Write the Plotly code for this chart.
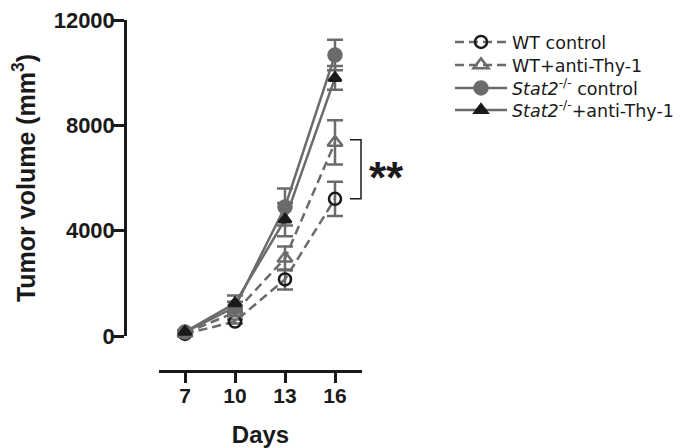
import plotly.graph_objects as go

# ---- data ----
days = [7, 10, 13, 16]
day_ticks = [7, 10, 13, 16]
vol_ticks = [0, 4000, 8000, 12000]
vol_tick_labels = ["0", "4000", "8000", "12000"]

names = ["WT control", "WT+anti-Thy-1",
         "<i>Stat2</i><sup>-/-</sup> control", "<i>Stat2</i><sup>-/-</sup>+anti-Thy-1"]
wt_ctrl = [80, 550, 2150, 5210]
wt_ctrl_err = [40, 80, 380, 650]
wt_anti = [100, 900, 2950, 7350]
wt_anti_err = [50, 150, 450, 840]
stat2_ctrl = [150, 1100, 4900, 10670]
stat2_ctrl_err = [60, 200, 700, 580]
stat2_anti = [160, 1240, 4420, 9800]
stat2_anti_err = [60, 300, 630, 450]

GREY = "#6b6b6b"
BLACK = "#1a1a1a"
FONT = "Liberation Sans"
LFONT = "DejaVu Sans"
# the page body has an 8px default margin, so the figure is 8px smaller each way
OFF = 8
W, H = 700 - OFF, 448 - OFF


def fx(p):
    return (p - OFF) / W


def fy(p):
    return 1 - (p - OFF) / H


fig = go.Figure()

styles = [
    dict(y=wt_ctrl, e=wt_ctrl_err, dash="9px,5px", sym="circle-open", mcol=BLACK, size=12),
    dict(y=wt_anti, e=wt_anti_err, dash="9px,5px", sym="triangle-up-open", mcol=GREY, size=13),
    dict(y=stat2_ctrl, e=stat2_ctrl_err, dash="solid", sym="circle", mcol=GREY, size=13),
    dict(y=stat2_anti, e=stat2_anti_err, dash="solid", sym="triangle-up", mcol=BLACK, size=11),
]
legend_ids = ["legend", "legend2", "legend3", "legend4"]
legend_y_px = [42, 65, 88, 110]

for i, (nm, st) in enumerate(zip(names, styles)):
    fig.add_trace(go.Scatter(
        x=days, y=st["y"], name=nm, mode="lines+markers",
        line=dict(color=GREY, width=2.5, dash=st["dash"]),
        marker=dict(symbol=st["sym"], color=st["mcol"], size=st["size"],
                    line=dict(width=2.5, color=st["mcol"])),
        error_y=dict(type="data", array=st["e"], color=GREY, thickness=2.5, width=8),
        cliponaxis=False, legend=legend_ids[i],
    ))

layout_legends = {}
for i, lid in enumerate(legend_ids):
    layout_legends[lid] = dict(
        x=fx(450), y=fy(legend_y_px[i]), xanchor="left", yanchor="middle",
        bgcolor="rgba(0,0,0,0)", borderwidth=0, itemwidth=52,
        font=dict(family=LFONT, size=17.5, color=BLACK),
    )

# significance bracket between WT groups at day 16
top = wt_anti[-1] + 100
bot = wt_ctrl[-1]
fig.add_shape(type="path", xref="x", yref="y",
              path=f"M 16.9 {top} L 17.56 {top} L 17.56 {bot} L 16.9 {bot}",
              line=dict(color=BLACK, width=1.5))
fig.add_annotation(x=17.56, y=(top + bot) / 2, xref="x", yref="y", text="**",
                   showarrow=False, xanchor="left", yanchor="middle", xshift=6, yshift=-8,
                   font=dict(family=FONT, size=44, color=BLACK, weight="bold"))

fig.update_layout(
    width=W, height=H, margin=dict(l=0, r=0, t=0, b=0, autoexpand=False),
    paper_bgcolor="white", plot_bgcolor="white",
    showlegend=True,
    xaxis=dict(domain=[fx(159), fx(362)], range=[5.44, 17.62], anchor="free",
               position=fy(371), tickvals=day_ticks, ticks="outside", ticklen=10,
               ticklabelstandoff=-5, ticklabeloverflow="allow",
               tickwidth=2.5, tickcolor=BLACK, showline=True, linewidth=2.5, linecolor=BLACK,
               showgrid=False, zeroline=False, automargin=False,
               tickfont=dict(family=FONT, size=21, color=BLACK, weight="bold"),
               title=dict(text="Days", standoff=20,
                          font=dict(family=FONT, size=24, color=BLACK, weight="bold"))),
    yaxis=dict(domain=[fy(336), fy(20)], range=[0, 12000], anchor="free",
               position=fx(125), tickvals=vol_ticks, ticktext=vol_tick_labels,
               ticks="outside", ticklen=11, ticklabelstandoff=-6, ticklabeloverflow="allow",
               tickwidth=2.5, tickcolor=BLACK, showline=True, linewidth=2.5, linecolor=BLACK,
               showgrid=False, zeroline=False, automargin=False,
               tickfont=dict(family=FONT, size=22, color=BLACK, weight="bold"),
               title=dict(text="Tumor volume (mm<sup>3</sup>)", standoff=11,
                          font=dict(family=FONT, size=25, color=BLACK, weight="bold"))),
    **layout_legends,
)

fig.write_html("out.html")
